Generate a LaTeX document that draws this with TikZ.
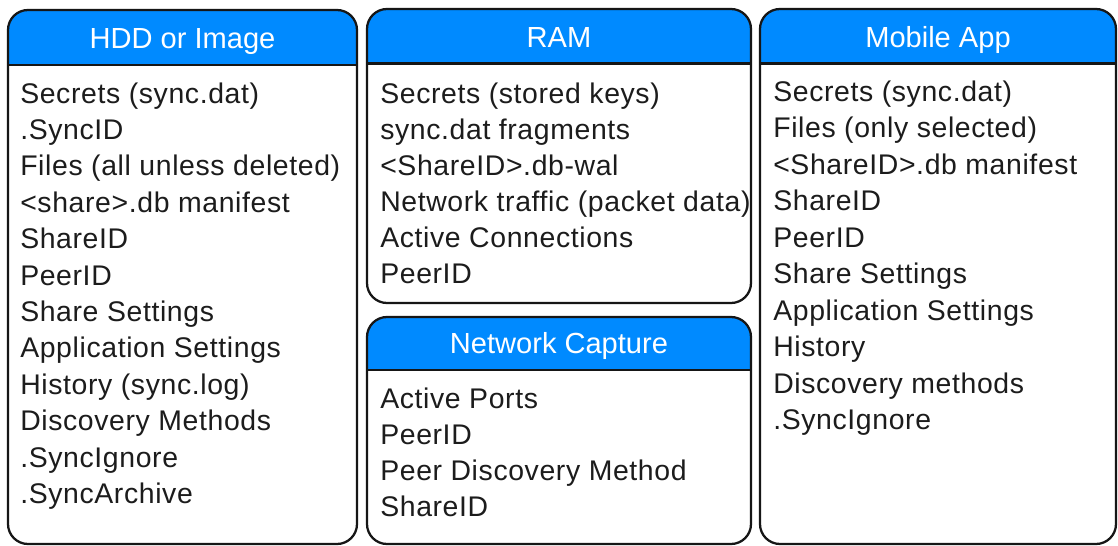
\documentclass[tikz,border=0pt]{standalone}
\usepackage{fontspec}
\setmainfont{Liberation Sans}
\newfontfamily\bodyfont[LetterSpace=2.2]{Liberation Sans}
\definecolor{hdrblue}{RGB}{0,138,255}
\definecolor{edgecol}{RGB}{22,22,22}
\definecolor{txtcol}{RGB}{28,28,28}
\newcommand\mypanel[7]{%
  \begin{scope}
    \clip[rounded corners=15pt] (#2,#3) rectangle (#4,#5);
    \fill[hdrblue] (#2,#3) rectangle (#4,#6);
  \end{scope}
  \draw[rule] (#2,#6) -- (#4,#6);
  \draw[panelbox] (#2,#3) rectangle (#4,#5);
  \node[hdr] (#1) at ({(#2+#4)/2},{#6-16.5}) {#7};
}
\begin{document}
\begin{tikzpicture}[x=0.75pt,y=-0.75pt,
  panelbox/.style={draw=edgecol,line width=1.7pt,rounded corners=15pt},
  rule/.style={draw=edgecol,line width=1.7pt},
  hdr/.style={anchor=base,inner sep=0pt,text=white,font=\fontsize{21.8pt}{26pt}\selectfont},
  item/.style={anchor=base west,inner sep=0pt,text=txtcol,font=\bodyfont\fontsize{21.3pt}{26pt}\selectfont}]
\useasboundingbox (0,0) rectangle (1118,546);
\fill[white] (0,0) rectangle (1118,546);

\mypanel{hddT}{8}{10}{357}{544}{65}{HDD or Image}
\mypanel{ramT}{367}{9}{751}{303}{63.5}{RAM}
\mypanel{netT}{367}{317}{751}{544}{370}{Network Capture}
\mypanel{mobT}{760}{9}{1116}{544}{63.5}{Mobile App}

\foreach \t [count=\i] in {Secrets (sync.dat), .SyncID, Files (all unless deleted), {<share>.db manifest}, ShareID, PeerID, Share Settings, Application Settings, History (sync.log), Discovery Methods, .SyncIgnore, .SyncArchive}
  \node[item] (h\i) at (20,{103+36.4*(\i-1)}) {\t};

\foreach \t [count=\i] in {Secrets (stored keys), sync.dat fragments, {<ShareID>.db-wal}, Network traffic (packet data), Active Connections, PeerID}
  \node[item] (r\i) at (380,{103+36*(\i-1)}) {\t};

\foreach \t [count=\i] in {Active Ports, PeerID, Peer Discovery Method, ShareID}
  \node[item] (n\i) at (380,{408+36.3*(\i-1)}) {\t};

\foreach \t [count=\i] in {Secrets (sync.dat), Files (only selected), {<ShareID>.db manifest}, ShareID, PeerID, Share Settings, Application Settings, History, Discovery methods, .SyncIgnore}
  \node[item] (m\i) at (773,{101+36.5*(\i-1)}) {\t};
\end{tikzpicture}
\end{document}
